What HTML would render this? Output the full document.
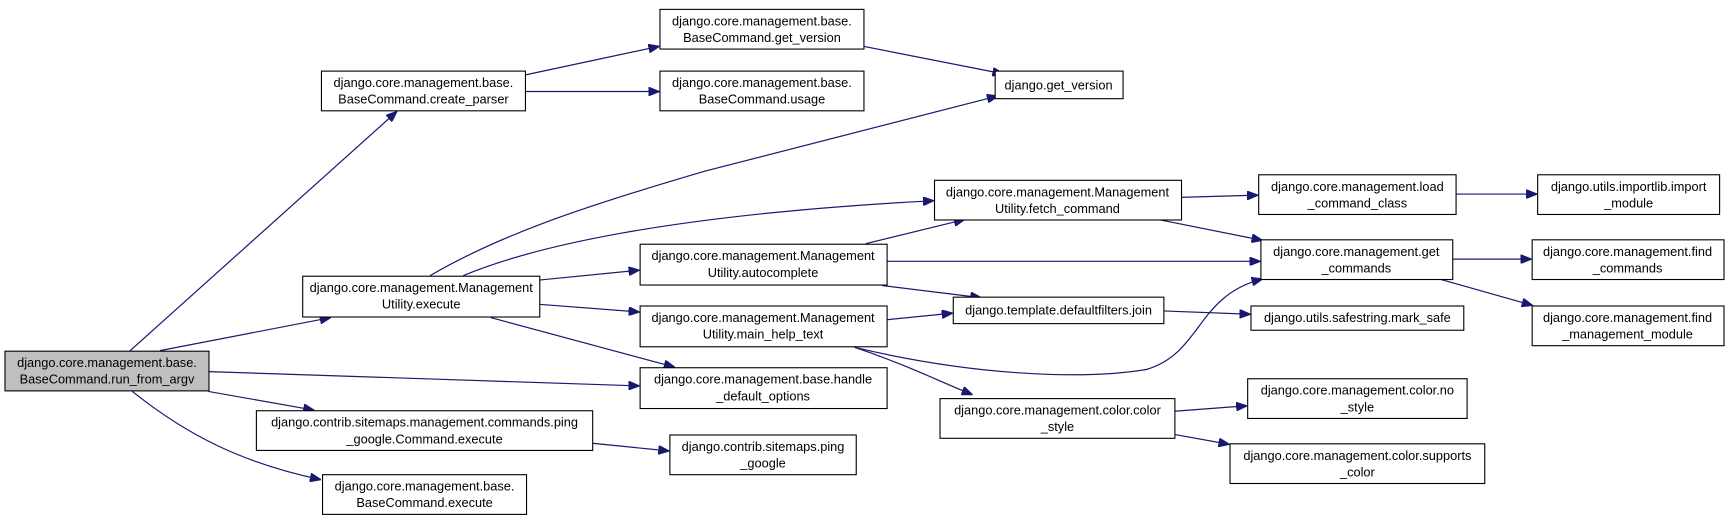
<!DOCTYPE html>
<html><head><meta charset="utf-8"><style>
html,body{margin:0;padding:0;background:#fff;width:1729px;height:521px;overflow:hidden}
svg{display:block}
text{font-family:"Liberation Sans",Arial,sans-serif;font-size:11.6px;fill:#000;text-anchor:middle}
rect{fill:#fff;stroke:#000;stroke-width:1}
path{fill:none;stroke:#191970;stroke-width:1.1}
</style></head><body>
<svg width="1729" height="521" viewBox="0 0 1568 472.5" xmlns="http://www.w3.org/2000/svg">
<defs><marker id="a" viewBox="0 0 10 8" refX="10" refY="4" markerWidth="10" markerHeight="8" markerUnits="userSpaceOnUse" orient="auto"><polygon points="0,0 10,4 0,8" fill="#191970" stroke="#191970"/></marker></defs>
<g marker-end="url(#a)">
<path d="M118,318 L360,101"/>
<path d="M145,318 L300,288"/>
<path d="M189,337 L580,350"/>
<path d="M189,355 L285,372"/>
<path d="M120,355 C170,395 220,420 291,435"/>
<path d="M476,68 L598,42"/>
<path d="M476,83 L598,83"/>
<path d="M783,42 L910,67"/>
<path d="M390,250 C450,215 520,190 640,155 L905,87"/>
<path d="M420,250 C480,225 600,195 847,182"/>
<path d="M489,254 L580,245"/>
<path d="M489,276 L580,283"/>
<path d="M445,288 L612,333"/>
<path d="M785,221 L875,199"/>
<path d="M804,237 L1143,237"/>
<path d="M800,259 L890,270"/>
<path d="M804,290 L864,284"/>
<path d="M775,315 C880,340 980,345 1040,335 C1090,320 1085,268 1145,253"/>
<path d="M775,315 C820,330 850,345 882,358"/>
<path d="M1050,199 L1145,218"/>
<path d="M1070,179 L1141,177"/>
<path d="M1320,176 L1394,176"/>
<path d="M1317,235 L1389,235"/>
<path d="M1305,253 L1390,277"/>
<path d="M1055,282 L1134,285"/>
<path d="M1065,373 L1131,368"/>
<path d="M1065,394 L1115,403"/>
<path d="M537,402 L607,409"/>
</g>
<rect x="4.5" y="318.5" width="185" height="36" style="fill:#bfbfbf"/>
<text x="97" y="333">django.core.management.base.</text><text x="97" y="348">BaseCommand.run_from_argv</text>
<rect x="291.5" y="64.5" width="185" height="36"/>
<text x="384" y="79">django.core.management.base.</text><text x="384" y="94">BaseCommand.create_parser</text>
<rect x="598.5" y="8.5" width="185" height="36"/>
<text x="691" y="23">django.core.management.base.</text><text x="691" y="38">BaseCommand.get_version</text>
<rect x="598.5" y="64.5" width="185" height="36"/>
<text x="691" y="79">django.core.management.base.</text><text x="691" y="94">BaseCommand.usage</text>
<rect x="902.5" y="64.5" width="116" height="25"/>
<text x="960" y="81">django.get_version</text>
<rect x="274.5" y="250.5" width="215" height="37"/>
<text x="382" y="265">django.core.management.Management</text><text x="382" y="280">Utility.execute</text>
<rect x="847.5" y="163.5" width="224" height="36"/>
<text x="959" y="178">django.core.management.Management</text><text x="959" y="193">Utility.fetch_command</text>
<rect x="580.5" y="221.5" width="224" height="37"/>
<text x="692" y="236">django.core.management.Management</text><text x="692" y="251">Utility.autocomplete</text>
<rect x="580.5" y="277.5" width="224" height="37"/>
<text x="692" y="292">django.core.management.Management</text><text x="692" y="307">Utility.main_help_text</text>
<rect x="580.5" y="333.5" width="224" height="37"/>
<text x="692" y="348">django.core.management.base.handle</text><text x="692" y="363">_default_options</text>
<rect x="864.5" y="269.5" width="191" height="24"/>
<text x="960" y="285">django.template.defaultfilters.join</text>
<rect x="852.5" y="361.5" width="213" height="36"/>
<text x="959" y="376">django.core.management.color.color</text><text x="959" y="391">_style</text>
<rect x="232.5" y="372.5" width="305" height="36"/>
<text x="385" y="387">django.contrib.sitemaps.management.commands.ping</text><text x="385" y="402">_google.Command.execute</text>
<rect x="607.5" y="394.5" width="169" height="36"/>
<text x="692" y="409">django.contrib.sitemaps.ping</text><text x="692" y="424">_google</text>
<rect x="292.5" y="430.5" width="185" height="36"/>
<text x="385" y="445">django.core.management.base.</text><text x="385" y="460">BaseCommand.execute</text>
<rect x="1141.5" y="158.5" width="179" height="36"/>
<text x="1231" y="173">django.core.management.load</text><text x="1231" y="188">_command_class</text>
<rect x="1143.5" y="217.5" width="174" height="36"/>
<text x="1230" y="232">django.core.management.get</text><text x="1230" y="247">_commands</text>
<rect x="1134.5" y="277.5" width="193" height="22"/>
<text x="1231" y="292">django.utils.safestring.mark_safe</text>
<rect x="1131.5" y="343.5" width="199" height="36"/>
<text x="1231" y="358">django.core.management.color.no</text><text x="1231" y="373">_style</text>
<rect x="1115.5" y="402.5" width="231" height="36"/>
<text x="1231" y="417">django.core.management.color.supports</text><text x="1231" y="432">_color</text>
<rect x="1394.5" y="158.5" width="165" height="36"/>
<text x="1477" y="173">django.utils.importlib.import</text><text x="1477" y="188">_module</text>
<rect x="1389.5" y="217.5" width="174" height="36"/>
<text x="1476" y="232">django.core.management.find</text><text x="1476" y="247">_commands</text>
<rect x="1389.5" y="277.5" width="174" height="36"/>
<text x="1476" y="292">django.core.management.find</text><text x="1476" y="307">_management_module</text>
</svg>
</body></html>
